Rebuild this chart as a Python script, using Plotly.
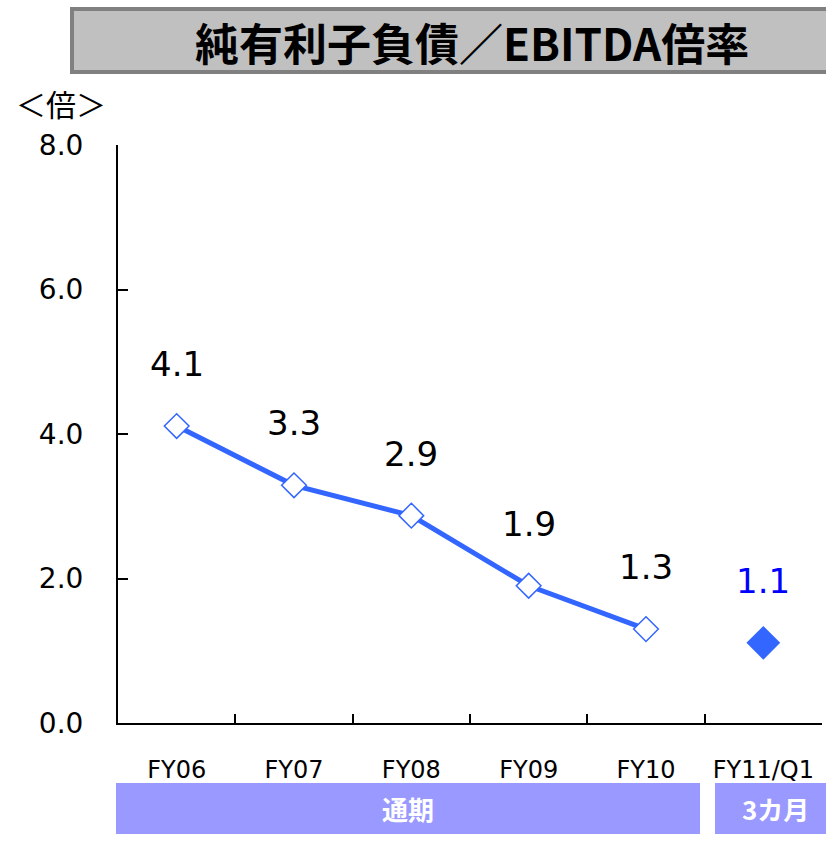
import plotly.graph_objects as go

categories = ["FY06", "FY07", "FY08", "FY09", "FY10", "FY11/Q1"]
annual_values = [4.11, 3.29, 2.87, 1.90, 1.30]
quarter_values = [1.11]
value_labels = ["4.1", "3.3", "2.9", "1.9", "1.3", "1.1"]
y_ticks = [0, 2, 4, 6, 8]
y_tick_labels = ["0.0", "2.0", "4.0", "6.0", "8.0"]
title_text = "純有利子負債／EBITDA倍率"
unit_text = "＜倍＞"
period_labels = ["通期", "3カ月"]

CJK = "Noto Sans CJK JP"
LAT = "DejaVu Sans"
BLUE = "#3366ff"

L, R, T, B = 118, 822, 145, 723
PW, PH = R - L, B - T


def px(x):
    return (x - L) / PW


def py(y):
    return (B - y) / PH


fig = go.Figure()
fig.add_trace(go.Scatter(
    x=categories[:5], y=annual_values, mode="lines+markers",
    line=dict(color=BLUE, width=5),
    marker=dict(symbol="diamond", size=19, color="white", line=dict(color=BLUE, width=1.5)),
    hoverinfo="skip", showlegend=False))
fig.add_trace(go.Scatter(
    x=categories[5:], y=quarter_values, mode="markers",
    marker=dict(symbol="diamond", size=26, color=BLUE, line=dict(width=0)),
    hoverinfo="skip", showlegend=False))

all_vals = annual_values + quarter_values
for i, (c, v, t) in enumerate(zip(categories, all_vals, value_labels)):
    fig.add_annotation(x=c, y=v, text=t, showarrow=False, yshift=62,
                       font=dict(family=LAT, size=34, color="#0000ff" if i == 5 else "black"))

fig.update_layout(
    width=826, height=843,
    margin=dict(l=L, r=826 - R, t=T, b=843 - B),
    paper_bgcolor="white", plot_bgcolor="white",
    font=dict(family=LAT, color="black"),
)
fig.update_xaxes(
    type="category", categoryorder="array", categoryarray=categories,
    range=[-0.5, 5.5], tickson="boundaries", ticks="inside", ticklen=9,
    tickcolor="black", tickwidth=1.5, showline=True, linecolor="black", linewidth=2,
    showgrid=False, zeroline=False, ticklabelstandoff=24,
    tickfont=dict(family=LAT, size=24, color="black"))
fig.update_yaxes(
    range=[0, 8], tickvals=y_ticks, ticktext=y_tick_labels, ticks="inside", ticklen=10,
    tickcolor="black", tickwidth=1.5, showline=True, linecolor="black", linewidth=2,
    showgrid=False, zeroline=False, ticklabelstandoff=27,
    tickfont=dict(family=LAT, size=28, color="black"))

# title box
fig.add_shape(type="rect", xref="paper", yref="paper",
              x0=px(72), x1=px(832), y0=py(72), y1=py(9),
              fillcolor="#c0c0c0", line=dict(color="#808080", width=4), layer="below")
fig.add_annotation(xref="paper", yref="paper", x=px(472), y=py(42),
                   xanchor="center", yanchor="middle",
                   text="<b>" + title_text + "</b>", showarrow=False,
                   font=dict(family=CJK, size=44, color="black"))
fig.add_annotation(xref="paper", yref="paper", x=px(61), y=py(103),
                   xanchor="center", yanchor="middle",
                   text=unit_text, showarrow=False,
                   font=dict(family=CJK, size=30, color="black"))

# period bars
bars = [(116, 700, 408, period_labels[0]), (715, 832, 775, period_labels[1])]
for x0, x1, cx, lab in bars:
    fig.add_shape(type="rect", xref="paper", yref="paper",
                  x0=px(x0), x1=px(x1), y0=py(834), y1=py(783),
                  fillcolor="#9999ff", line=dict(width=0), layer="below")
    fig.add_annotation(xref="paper", yref="paper", x=px(cx), y=py(808),
                       xanchor="center", yanchor="middle",
                       text="<b>" + lab + "</b>",
                       showarrow=False, font=dict(family=CJK, size=26, color="white"))

fig.write_html("out.html", config={"displayModeBar": False},
               post_script="document.body.style.margin='0';document.body.style.overflow='hidden';")
